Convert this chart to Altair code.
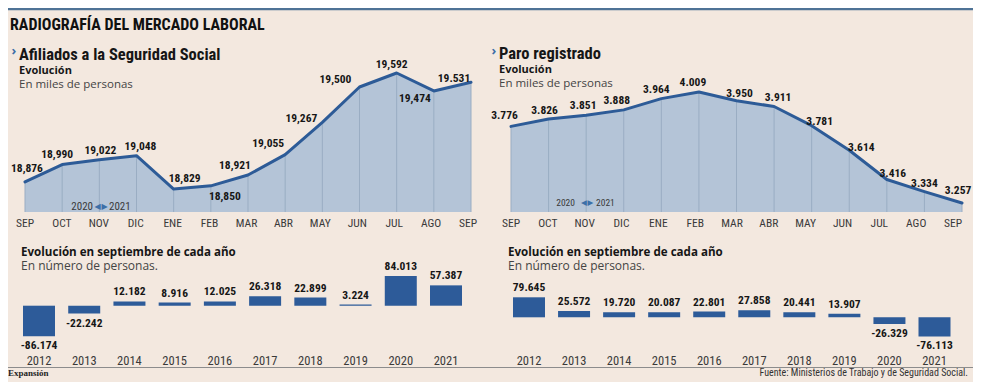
import altair as alt
import pandas as pd

# ---------------- data ----------------
months = ["SEP", "OCT", "NOV", "DIC", "ENE", "FEB", "MAR", "ABR", "MAY", "JUN", "JUL", "AGO", "SEP"]
afiliados = [18876, 18990, 19022, 19048, 18829, 18850, 18921, 19055, 19267, 19500, 19592, 19474, 19531]
afiliados_labels = ["18,876", "18,990", "19,022", "19,048", "18,829", "18,850", "18,921",
                    "19,055", "19,267", "19,500", "19,592", "19,474", "19.531"]
paro = [3776, 3826, 3851, 3888, 3964, 4009, 3950, 3911, 3781, 3614, 3416, 3334, 3257]
paro_labels = ["3.776", "3.826", "3.851", "3.888", "3.964", "4.009", "3.950",
               "3.911", "3.781", "3.614", "3.416", "3.334", "3.257"]
years = [2012, 2013, 2014, 2015, 2016, 2017, 2018, 2019, 2020, 2021]
afiliados_sep = [-86174, -22242, 12182, 8916, 12025, 26318, 22899, 3224, 84013, 57387]
paro_sep = [79645, 25572, 19720, 20087, 22801, 27858, 20441, 13907, -26329, -76113]

# ---------------- style / layout ----------------
BG = "#f3e8df"
FILL = "#b4c4d7"
GRID = "#9aadc3"
LINE = "#2d5b97"
BAR = "#2d5b99"
INK = "#161616"
GREY = "#3a3a3a"
ACCENT = "#3c6fa8"
COND = "Liberation Sans Narrow, Roboto Condensed, DejaVu Sans Condensed, sans-serif"
SANS = "Open Sans, Liberation Sans, sans-serif"
W, H = 965, 374

# label nudges (pixels) for the value labels of the two line charts
left_dx = [2, -5, 1, 4, 11, 14, -13, -17, -21, -24, -5, -19, -17]
left_dy = [-13, -9.5, -9, -9, -10, 11, -9, -10.5, -3.5, -7, -8, 8, -3]
right_dx = [-6.5, -4, -3, -7, -5, -6, 3, 4, 8, 12, 6, 0, -4]
right_dy = [-10, -8.5, -9, -9, -8.5, -9, -7, -8, -4, -2, -6, -8, -12]


def txt(t, x, y, size, color=INK, font=SANS, weight="normal", align="left", baseline="alphabetic"):
    return alt.Chart(pd.DataFrame({"t": [t]})).mark_text(
        font=font, fontSize=size, fontWeight=weight, color=color, align=align, baseline=baseline
    ).encode(x=alt.value(x), y=alt.value(y), text="t:N")


def hline(x0, x1, y, color, width):
    return alt.Chart(pd.DataFrame({"t": [0]})).mark_rule(color=color, strokeWidth=width).encode(
        x=alt.value(x0), x2=alt.value(x1), y=alt.value(y)
    )


def area_panel(values, labels, xr, ydom, yr, dxs, dys, label_xr):
    df = pd.DataFrame({"i": list(range(len(values))), "mes": months, "v": values, "lab": labels})
    xs = alt.Scale(domain=[0, len(values) - 1], range=xr, nice=False, zero=False)
    ys = alt.Scale(domain=ydom, range=yr, nice=False, zero=False)
    x = alt.X("i:Q", scale=xs, axis=None)
    y = alt.Y("v:Q", scale=ys, axis=None)
    base = alt.Chart(df)
    area = base.mark_area(color=FILL, opacity=1).encode(x=x, y=y, y2=alt.datum(ydom[0]))
    rules = base.mark_rule(color=GRID, strokeWidth=1).encode(x=x, y=y, y2=alt.datum(ydom[0]))
    line = base.mark_line(color=LINE, strokeWidth=3, strokeJoin="round", strokeCap="round").encode(x=x, y=y)
    labs = []
    for k in range(len(values)):
        labs.append(
            base.transform_filter(alt.datum.i == k)
            .mark_text(font=COND, fontSize=11.5, fontWeight="bold", color=INK, baseline="middle",
                       dx=dxs[k], dy=dys[k])
            .encode(x=x, y=y, text="lab:N")
        )
    # month names sit on their own (slightly narrower) band
    mes = base.mark_text(font=COND, fontSize=11.5, color=GREY, baseline="middle").encode(
        x=alt.X("i:Q", scale=alt.Scale(domain=[0, len(values) - 1], range=label_xr, nice=False, zero=False),
                axis=None),
        y=alt.value(215.5), text="mes:N"
    )
    return alt.layer(area, rules, line, *labs), mes


def bar_panel(values, xr, yr):
    df = pd.DataFrame({"year": years, "v": values,
                       "lab": [f"{v:,}".replace(",", ".") for v in values]})
    half = 16 / ((xr[1] - xr[0]) / (len(years) - 1))
    xs = alt.Scale(domain=[years[0], years[-1]], range=xr, nice=False, zero=False)
    ys = alt.Scale(domain=[-90000, 90000], range=yr, nice=False, zero=False)
    base = alt.Chart(df).transform_calculate(x0=f"datum.year - {half}", x1=f"datum.year + {half}")
    bars = base.mark_rect(color=BAR).encode(
        x=alt.X("x0:Q", scale=xs, axis=None), x2="x1:Q",
        y=alt.Y("v:Q", scale=ys, axis=None), y2=alt.datum(0)
    )
    yl = base.mark_text(font=COND, fontSize=12.5, color=GREY, baseline="middle").encode(
        x=alt.X("year:Q", scale=xs, axis=None), y=alt.value(352.5), text=alt.Text("year:Q", format="d")
    )
    pos = base.transform_filter(alt.datum.v > 0).mark_text(
        font=COND, fontSize=11.5, fontWeight="bold", color=INK, baseline="middle", dy=-9
    ).encode(x=alt.X("year:Q", scale=xs, axis=None), y=alt.Y("v:Q", scale=ys, axis=None), text="lab:N")
    neg = base.transform_filter(alt.datum.v < 0).mark_text(
        font=COND, fontSize=11.5, fontWeight="bold", color=INK, baseline="middle", dy=10
    ).encode(x=alt.X("year:Q", scale=xs, axis=None), y=alt.Y("v:Q", scale=ys, axis=None), text="lab:N")
    return alt.layer(bars, yl, pos, neg)


left_area, left_mes = area_panel(afiliados, afiliados_labels, [17, 463], [18678, 19592], [204, 65],
                                 left_dx, left_dy, [17, 460])
right_area, right_mes = area_panel(paro, paro_labels, [503, 954], [3196, 4009], [204, 84],
                                   right_dx, right_dy, [503, 945])
left_bars = bar_panel(afiliados_sep, [31, 438], [329.6, 265.8])
right_bars = bar_panel(paro_sep, [521, 926.5], [331.9, 286.7])

decor = [
    hline(0, W, 1, "#4f7396", 2.5),
    hline(0, W, 359.5, "#8c8c8c", 1),
    txt("RADIOGRAFÍA DEL MERCADO LABORAL", 2, 22, 16, font=COND, weight="bold", color="#111111"),
    txt("›", 6, 43, 13, color=ACCENT, weight="bold", align="center", baseline="middle"),
    txt("Afiliados a la Seguridad Social", 11, 51.5, 16.5, font=COND, weight="bold"),
    txt("Evolución", 11, 66, 11, weight="bold"),
    txt("En miles de personas", 11, 80, 11.5, color="#444444"),
    txt("›", 486, 43, 13, color=ACCENT, weight="bold", align="center", baseline="middle"),
    txt("Paro registrado", 491, 50.5, 16.5, font=COND, weight="bold"),
    txt("Evolución", 491, 65, 11, weight="bold"),
    txt("En miles de personas", 491, 79, 11.5, color="#444444"),
    txt("2020", 85, 199, 11, font=COND, color=GREY, align="right", baseline="middle"),
    txt("◀", 89.5, 199, 8, font="DejaVu Sans", color=ACCENT, align="center", baseline="middle"),
    txt("▶", 96.5, 199, 8, font="DejaVu Sans", color=ACCENT, align="center", baseline="middle"),
    txt("2021", 101, 199, 11, font=COND, color=GREY, baseline="middle"),
    txt("2020", 567, 195, 9.5, font=COND, color=GREY, align="right", baseline="middle"),
    txt("◀", 576, 195, 7.5, font="DejaVu Sans", color=ACCENT, align="center", baseline="middle"),
    txt("▶", 582.5, 195, 7.5, font="DejaVu Sans", color=ACCENT, align="center", baseline="middle"),
    txt("2021", 588, 195, 9.5, font=COND, color=GREY, baseline="middle"),
    txt("Evolución en septiembre de cada año", 13, 247.5, 11.6, weight="bold"),
    txt("En número de personas.", 13, 262, 12, color="#444444"),
    txt("Evolución en septiembre de cada año", 500, 247.5, 11.6, weight="bold"),
    txt("En número de personas.", 500, 262, 12, color="#444444"),
    txt("Expansión", 0, 368, 9, font="Liberation Serif, DejaVu Serif, serif", weight="bold", color="#222222"),
    txt("Fuente: Ministerios de Trabajo y de Seguridad Social.", 960, 368, 10, font=COND, color="#333333",
        align="right"),
]

chart = (
    alt.layer(left_area, right_area, left_mes, right_mes, left_bars, right_bars, *decor)
    .resolve_scale(x="independent", y="independent")
    .properties(width=W, height=H, background=BG, padding=0,
                autosize=alt.AutoSizeParams(type="none"))
    .configure_view(stroke=None)
)

chart.save("out.html", embed_options={"renderer": "svg", "actions": False})
